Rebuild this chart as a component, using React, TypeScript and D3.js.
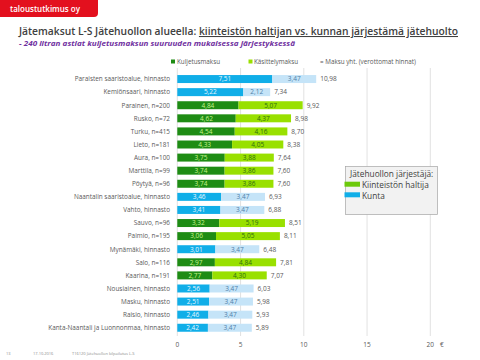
import React, { useEffect, useRef } from "react"
import * as d3 from "d3"

const categories = [
  "Paraisten saaristoalue, hinnasto",
  "Kemiönsaari, hinnasto",
  "Parainen, n=200",
  "Rusko, n=72",
  "Turku, n=415",
  "Lieto, n=181",
  "Aura, n=100",
  "Marttila, n=99",
  "Pöytyä, n=96",
  "Naantalin saaristoalue, hinnasto",
  "Vahto, hinnasto",
  "Sauvo, n=96",
  "Paimio, n=195",
  "Mynämäki, hinnasto",
  "Salo, n=116",
  "Kaarina, n=191",
  "Nousiainen, hinnasto",
  "Masku, hinnasto",
  "Raisio, hinnasto",
  "Kanta-Naantali ja Luonnonmaa, hinnasto",
]
const kuljetus = [7.51, 5.22, 4.84, 4.62, 4.54, 4.33, 3.75, 3.74, 3.74, 3.46, 3.41, 3.32, 3.06, 3.01, 2.97, 2.77, 2.56, 2.51, 2.46, 2.42]
const kasittely = [3.47, 2.12, 5.07, 4.37, 4.16, 4.05, 3.88, 3.86, 3.86, 3.47, 3.47, 5.19, 5.05, 3.47, 4.84, 4.30, 3.47, 3.47, 3.47, 3.47]
const totals = [10.98, 7.34, 9.92, 8.98, 8.70, 8.38, 7.64, 7.60, 7.60, 6.93, 6.88, 8.51, 8.11, 6.48, 7.81, 7.07, 6.03, 5.98, 5.93, 5.89]
// K = kunta, H = kiinteistön haltija
const organizer = ["K", "K", "H", "H", "H", "H", "H", "H", "H", "K", "K", "H", "H", "K", "H", "H", "K", "K", "K", "K"]
const xTicks = [0, 5, 10, 15, 20]

const fmt = (v: number) => v.toFixed(2).replace(".", ",")

const colors = {
  H: { dark: "#1e8c14", light: "#99e000", darkText: "#c8f58c", lightText: "#2f6e12" },
  K: { dark: "#10aee8", light: "#c5e4f8", darkText: "#e6f6ff", lightText: "#4f7fa8" },
}

const App = () => {
  const ref = useRef<SVGSVGElement>(null)

  useEffect(() => {
    const svg = d3.select(ref.current)
    svg.selectAll("*").remove()
    const font = "'Open Sans', sans-serif"

    // logo
    svg.append("path")
      .attr("d", "M0,0 H98 V13 Q98,17 94,17 H0 Z")
      .attr("fill", "#e3101e")
    svg.append("text").attr("x", 10).attr("y", 11.5)
      .attr("fill", "#fff").attr("font-family", font).attr("font-size", 8).attr("font-weight", 600)
      .text("taloustutkimus oy")

    // title
    const title = svg.append("text").attr("x", 19).attr("y", 35)
      .attr("fill", "#404040").attr("font-family", font).attr("font-size", 10.5).attr("font-weight", 600)
      .attr("textLength", 439).attr("lengthAdjust", "spacingAndGlyphs")
    title.append("tspan").text("Jätemaksut L-S Jätehuollon alueella: ")
    title.append("tspan").attr("text-decoration", "underline").text("kiinteistön haltijan vs. kunnan järjestämä jätehuolto")
    svg.append("text").attr("x", 19).attr("y", 45.5)
      .attr("fill", "#7030a0").attr("font-family", font).attr("font-size", 6.5)
      .attr("font-weight", 700).attr("font-style", "italic")
      .attr("textLength", 276).attr("lengthAdjust", "spacingAndGlyphs")
      .text("- 240 litran astiat kuljetusmaksun suuruuden mukaisessa järjestyksessä")

    const x = d3.scaleLinear().domain([0, 20]).range([177.3, 430.3])
    const y = d3.scaleBand().domain(categories).range([72.5, 334.3]).paddingInner(0.39).paddingOuter(0.195)

    // gridlines
    svg.append("g").selectAll("line").data(xTicks).join("line")
      .attr("x1", d => x(d)).attr("x2", d => x(d))
      .attr("y1", 68).attr("y2", 336)
      .attr("stroke", "#d9d9d9").attr("stroke-width", 0.8)

    // axis labels
    svg.append("g").selectAll("text").data(xTicks).join("text")
      .attr("x", d => x(d)).attr("y", 346.5).attr("text-anchor", "middle")
      .attr("fill", "#595959").attr("font-family", font).attr("font-size", 6.5)
      .text(d => String(d))
    svg.append("text").attr("x", 440).attr("y", 346.5)
      .attr("fill", "#595959").attr("font-family", font).attr("font-size", 6.5).text("€")

    // top legend
    const leg = svg.append("g").attr("font-family", font).attr("font-size", 6.3).attr("fill", "#595959")
    leg.append("rect").attr("x", 171).attr("y", 59.5).attr("width", 4).attr("height", 4).attr("fill", "#1e8c14")
    leg.append("text").attr("x", 177).attr("y", 63.5).text("Kuljetusmaksu")
    leg.append("rect").attr("x", 248.5).attr("y", 59.5).attr("width", 4).attr("height", 4).attr("fill", "#99e000")
    leg.append("text").attr("x", 254).attr("y", 63.5).text("Käsittelymaksu")
    leg.append("text").attr("x", 320).attr("y", 63.5).text("= Maksu yht. (verottomat hinnat)")

    const bw = y.bandwidth()
    const rows = svg.append("g").selectAll("g").data(categories).join("g")
      .attr("transform", d => `translate(0,${y(d)})`)

    rows.append("text").attr("x", 170).attr("y", bw / 2 + 2.3).attr("text-anchor", "end")
      .attr("fill", "#595959").attr("font-family", font).attr("font-size", 6.4)
      .text(d => d)

    rows.append("rect")
      .attr("x", x(0)).attr("width", (d, i) => x(kuljetus[i]) - x(0)).attr("height", bw)
      .attr("fill", (d, i) => colors[organizer[i]].dark)
    rows.append("rect")
      .attr("x", (d, i) => x(kuljetus[i])).attr("width", (d, i) => x(kuljetus[i] + kasittely[i]) - x(kuljetus[i])).attr("height", bw)
      .attr("fill", (d, i) => colors[organizer[i]].light)

    const lbl = (sel: any) => sel.attr("y", bw / 2 + 2.3).attr("font-family", font).attr("font-size", 6.5)
    lbl(rows.append("text"))
      .attr("x", (d, i) => x(kuljetus[i] / 2)).attr("text-anchor", "middle")
      .attr("fill", (d, i) => colors[organizer[i]].darkText)
      .text((d, i) => fmt(kuljetus[i]))
    lbl(rows.append("text"))
      .attr("x", (d, i) => x(kuljetus[i] + kasittely[i] / 2)).attr("text-anchor", "middle")
      .attr("fill", (d, i) => colors[organizer[i]].lightText)
      .text((d, i) => fmt(kasittely[i]))
    lbl(rows.append("text"))
      .attr("x", (d, i) => x(kuljetus[i] + kasittely[i]) + 4)
      .attr("fill", "#595959")
      .text((d, i) => fmt(totals[i]))

    // organizer legend box
    const box = svg.append("g").attr("font-family", font).attr("font-size", 8.3).attr("fill", "#404040")
    box.append("rect").attr("x", 345.5).attr("y", 166.5).attr("width", 92).attr("height", 48)
      .attr("fill", "#f2f2f2").attr("stroke", "#a6a6a6").attr("stroke-width", 0.7)
    box.append("text").attr("x", 350).attr("y", 177).text("Jätehuollon järjestäjä:")
    box.append("rect").attr("x", 344.5).attr("y", 181.7).attr("width", 15.5).attr("height", 5).attr("fill", "#6cc90a")
    box.append("text").attr("x", 362).attr("y", 188).text("Kiinteistön haltija")
    box.append("rect").attr("x", 344.5).attr("y", 192.3).attr("width", 15.5).attr("height", 5).attr("fill", "#10aee8")
    box.append("text").attr("x", 362).attr("y", 199).text("Kunta")

    // footer
    const foot = svg.append("g").attr("font-family", font).attr("font-size", 4).attr("fill", "#8c8c8c")
    foot.append("text").attr("x", 6).attr("y", 355).text("13")
    foot.append("text").attr("x", 33).attr("y", 355).text("17.10.2016")
    foot.append("text").attr("x", 72).attr("y", 355).text("T16120 Jätehuollon kilpailutus L-S")
  }, [])

  return (
    <svg ref={ref} width={480} height={360}
      style={{ position: "absolute", left: 0, top: 0, background: "#fff" }} />
  )
}

export default App
